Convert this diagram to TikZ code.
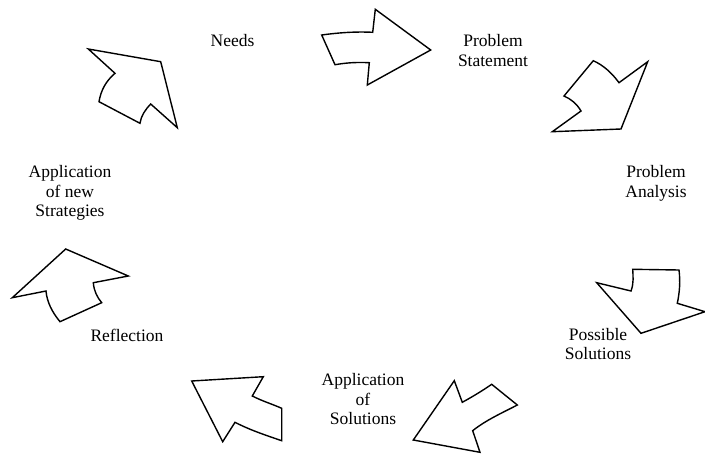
\documentclass[tikz,border=0pt]{standalone}
\usepackage{fontspec}
\setmainfont{Liberation Serif}
\begin{document}
\begin{tikzpicture}[x=1pt,y=-1pt,
  arrowshape/.style={draw=black, line width=1.4pt, line join=miter, fill=white},
  lbl/.style={align=center, inner sep=0pt, font=\fontsize{17.5}{19.5}\selectfont}]
\useasboundingbox (0,0) rectangle (705,458);
% arrow 1 (Needs -> Problem Statement)
\draw[arrowshape] (321.7,35) .. controls (340,32.5) and (356,31.5) .. (372.7,32.3) -- (375.3,9.3) -- (430.7,50) -- (367.3,85) -- (369.3,62.7) .. controls (355,62) and (345,63) .. (335,64.7) -- cycle;
% arrow 2
\draw[arrowshape] (593.3,60.7) .. controls (603,65) and (612,73) .. (619,82.7) -- (647.7,61.7) -- (621,129) -- (552.3,131.7) -- (581,111) .. controls (577,104) and (571,99) .. (564,96) -- cycle;
% arrow 3
\draw[arrowshape] (596.7,282.7) -- (631,291) .. controls (634,283) and (633,276) .. (632.7,269.3) -- (679,270) .. controls (680.5,282) and (679.5,293) .. (677.3,303.3) -- (705,311.7) -- (641,333.3) -- cycle;
% arrow 4
\draw[arrowshape] (413.3,440) -- (454.3,380.7) -- (462.3,402.3) .. controls (472,397) and (482,391) .. (491.7,384.3) -- (517.3,405) .. controls (502,413) and (486,420) .. (472.7,430.7) -- (480,452.3) -- cycle;
% arrow 5
\draw[arrowshape] (191.7,381) -- (263.3,376.7) -- (252.3,396) .. controls (262,401) and (272,404) .. (281.7,408.3) -- (281.7,440.7) .. controls (265,435) and (250,430) .. (235,422.3) -- (222.7,441.7) -- cycle;
% arrow 6
\draw[arrowshape] (12.3,297.7) -- (65.7,249) -- (128.3,276) -- (93.3,282.7) .. controls (94,291) and (97,297) .. (101.7,302.7) -- (60,321.7) .. controls (52,312) and (47,302) .. (46,291) -- cycle;
% arrow 7
\draw[arrowshape] (88.3,49) -- (160.7,61.7) -- (177.3,127.7) -- (150.7,104) .. controls (145,110) and (141,116) .. (140,123.3) -- (99,101.7) .. controls (101,90) and (106,81) .. (115,73.3) -- cycle;
% labels
\node[lbl] (needs) at (232.5,40.8) {Needs};
\node[lbl] (ps) at (493,50.3) {Problem\\Statement};
\node[lbl] (pa) at (656,183.3) {Problem\\Analysis};
\node[lbl] (sol) at (598,344) {Possible\\Solutions};
\node[lbl] (aps) at (363,399.5) {Application\\of\\Solutions};
\node[lbl] (refl) at (127,335) {Reflection};
\node[lbl] (ans) at (70,193) {Application\\of new\\Strategies};
\end{tikzpicture}
\end{document}
